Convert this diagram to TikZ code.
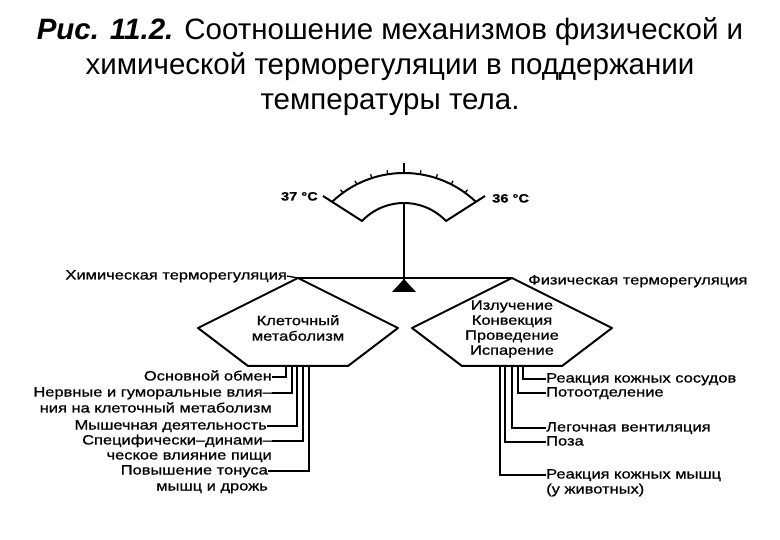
\documentclass[tikz,border=0pt]{standalone}
\usepackage{fontspec}
\setmainfont{Liberation Sans}
\newfontfamily\lblfont[FakeStretch=1.22,FakeBold=0.8]{Liberation Sans}
\usetikzlibrary{positioning}

\begin{document}
\begin{tikzpicture}[x=1pt,y=1pt,
  outline/.style={line width=2pt, line join=round},
  leader/.style={line width=1.3pt},
  lbl/.style={font=\lblfont\fontsize{13.5}{15.5}\selectfont, inner sep=0pt,
    text height=10pt, text depth=3pt},
  boxtext/.style={lbl, align=center, text height=, text depth=}]
  \fill[white] (0,0) rectangle (780,-540);
  \useasboundingbox (0,0) rectangle (780,-540);

  % caption
  \node[align=center, font=\fontsize{29.5}{35}\selectfont] (caption) at (390,-67)
    {\textbf{\textit{Рис. 11.2.}} Соотношение механизмов физической и\\
     химической терморегуляции в поддержании\\
     температуры тела.};

  % gauge
  \draw[outline] (323,-196) -- (362,-221) arc[start angle=136.4, end angle=43.6, radius=58]
    -- (485,-196);
  \draw[outline] (404,-277) ++(133.8:104) arc[start angle=133.8, end angle=46.2, radius=104];
  \foreach \a in {54,63,72,81,99,108,117,126}
    \draw[line width=1.3pt] (404,-277) ++(\a:104) -- ++(\a:4);
  \draw[line width=1.5pt] (404,-173) -- (404,-163);
  \node[lbl, font=\lblfont\bfseries\fontsize{12}{14}\selectfont, anchor=east] (hot) at (318,-197) {37 °C};
  \node[lbl, font=\lblfont\bfseries\fontsize{12}{14}\selectfont, anchor=west] (cold) at (492,-199) {36 °C};

  % pentagons
  \coordinate (chemtop) at (298,-278);
  \coordinate (chemright) at (398,-328);
  \coordinate (chembr) at (348,-366);
  \coordinate (chembl) at (248,-366);
  \coordinate (chemleft) at (198,-328);
  \coordinate (phystop) at (512,-278);
  \coordinate (physright) at (612,-328);
  \coordinate (physbr) at (562,-366);
  \coordinate (physbl) at (462,-366);
  \coordinate (physleft) at (412,-328);
  \draw[outline] (chemtop) -- (chemright) -- (chembr) -- (chembl) -- (chemleft) -- cycle;
  \draw[outline] (phystop) -- (physright) -- (physbr) -- (physbl) -- (physleft) -- cycle;
  \node[boxtext] (cell) at (298,-328) {Клеточный\\метаболизм};
  \node[boxtext, font=\lblfont\fontsize{13.5}{15}\selectfont] (ways) at (512,-329)
    {Излучение\\Конвекция\\Проведение\\Испарение};

  % beam and pivot
  \draw[line width=1.8pt] (chemtop) -- (phystop);
  \draw[line width=2.2pt] (404,-203) -- (404,-283);
  \fill (404,-279) -- (392,-292) -- (416,-292) -- cycle;

  \node[lbl, anchor=east] (chemlbl) at (287,-276) {Химическая терморегуляция};
  \node[lbl, anchor=west] (physlbl) at (528,-281) {Физическая терморегуляция};
  \draw[leader] (chemlbl.east) -- (chemtop);

  % chemical factors
  \node[lbl, anchor=east] (basal) at (272,-377) {Основной обмен};
  \node[lbl, anchor=east] (nerv) at (272,-393) {Нервные и гуморальные влия–};
  \node[lbl, anchor=east] (nerv2) at (272,-409) {ния на клеточный метаболизм};
  \node[lbl, anchor=east] (musc) at (267,-426) {Мышечная деятельность};
  \node[lbl, anchor=east] (spec) at (272,-441) {Специфически–динами–};
  \node[lbl, anchor=east] (spec2) at (272,-456) {ческое влияние пищи};
  \node[lbl, anchor=east] (tone) at (268,-471) {Повышение тонуса};
  \node[lbl, anchor=east] (tone2) at (268,-487) {мышц и дрожь};
  \foreach \dx/\n in {38/basal, 44/nerv, 49/musc, 55/spec, 61/tone}
    \draw[leader] ([xshift=\dx pt]chembl) |- (\n.east);

  % physical factors
  \node[lbl, anchor=west] (vaso) at (546,-379) {Реакция кожных сосудов};
  \node[lbl, anchor=west] (sweat) at (546,-393) {Потоотделение};
  \node[lbl, anchor=west] (breath) at (546,-428) {Легочная вентиляция};
  \node[lbl, anchor=west] (pose) at (546,-442) {Поза};
  \node[lbl, anchor=west] (pilo) at (546,-475) {Реакция кожных мышц};
  \node[lbl, anchor=west] (pilo2) at (546,-490) {(у животных)};
  \foreach \dx/\n in {61/vaso, 56/sweat, 50/breath, 43/pose, 38/pilo}
    \draw[leader] ([xshift=\dx pt]physbl) |- (\n.west);
\end{tikzpicture}
\end{document}
